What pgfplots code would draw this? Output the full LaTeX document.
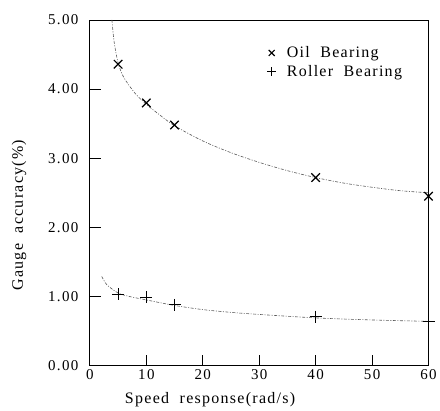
\documentclass[border=0pt]{standalone}
\usepackage{pgfplots}
\pgfplotsset{compat=1.18}
\usepackage{fontspec}
\setmainfont{Liberation Serif}
\newcommand{\tickfont}{\fontsize{15}{17}\selectfont\addfontfeature{LetterSpace=9}}
\newcommand{\labfont}{\fontsize{16}{18}\selectfont\addfontfeature{LetterSpace=8}}
\begin{document}
\begin{tikzpicture}
\begin{axis}[
  scale only axis, width=339pt, height=346pt,
  xmin=0, xmax=60, ymin=0, ymax=5,
  xtick={0,10,...,60}, ytick={0,1,...,5},
  yticklabels={0.00,1.00,2.00,3.00,4.00,5.00},
  xtick pos=left, ytick pos=left,
  tick align=inside, major tick length=11pt,
  tick style={black, line width=0.8pt},
  /pgf/number format/assume math mode=true,
  ticklabel style={font=\tickfont},
  yticklabel style={xshift=-8pt},
  axis line style={line width=0.9pt},
  xlabel={Speed\ \ response(rad/s)}, ylabel={Gauge\ \ accuracy(\%)},
  label style={font=\labfont},
  xlabel style={at={(rel axis cs:0.355,0)}, anchor=north, yshift=-23pt},
  ylabel style={at={(rel axis cs:0,0.435)}, anchor=south, xshift=0pt, yshift=60pt},
  legend style={draw=none, fill=none, at={(0.515,0.935)}, anchor=north west,
    font=\labfont, row sep=2pt, /tikz/every odd column/.append style={column sep=9pt}},
  legend image post style={scale=0.7},
  legend cell align=left,
]
\addplot[forget plot, gray!70!black, line width=0.6pt, dash pattern=on 3pt off 1.5pt on 1pt off 1.5pt, smooth] coordinates {
(3.9,5.0) (4.3,4.68) (5,4.38) (6,4.17) (8,3.94) (10,3.78) (12,3.65) (15,3.47) (20,3.25) (25,3.08) (30,2.94) (35,2.82) (40,2.72) (45,2.64) (50,2.58) (55,2.53) (60,2.50)};
\addplot[forget plot, gray!70!black, line width=0.6pt, dash pattern=on 3pt off 1.5pt on 1pt off 1.5pt, smooth] coordinates {
(2.1,1.29) (3,1.17) (5,1.05) (7,1.00) (10,0.95) (15,0.87) (20,0.81) (25,0.77) (30,0.74) (40,0.69) (50,0.66) (60,0.64)};
\addplot[only marks, mark=x, mark size=6pt, mark options={line width=1.2pt, black}] coordinates {
(5,4.36) (10,3.80) (15,3.48) (40,2.72) (60,2.45)};
\addlegendentry{Oil\ \ Bearing}
\addplot[only marks, mark=+, mark size=6pt, mark options={line width=1.1pt, black}] coordinates {
(5,1.03) (10,0.99) (15,0.88) (40,0.71) (60,0.64)};
\addlegendentry{Roller\ \ Bearing}
\end{axis}
\path (current axis.south west) ++(-90pt,-45pt) coordinate (bl);
\path (current axis.north east) ++(11pt,20pt) coordinate (tr);
\useasboundingbox (bl) rectangle (tr);
\end{tikzpicture}
\end{document}
